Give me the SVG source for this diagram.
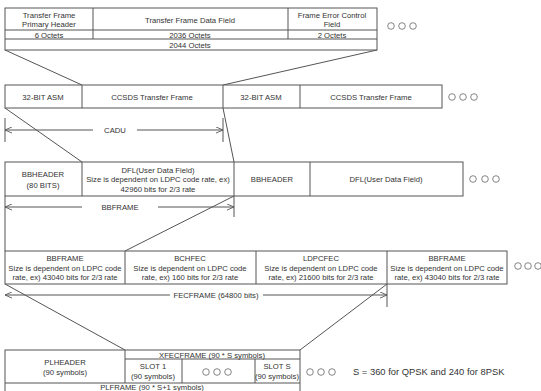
<svg xmlns="http://www.w3.org/2000/svg" width="541" height="391" viewBox="0 0 541 391">
<defs>
<style>
.b{fill:#fff;stroke:#555;stroke-width:1}
.l{stroke:#555;stroke-width:1;fill:none}
.c{fill:none;stroke:#666;stroke-width:0.8}
text{font-family:"Liberation Sans",Arial,sans-serif;font-size:7.7px;fill:#333;text-anchor:middle}
.s{font-size:9.4px;text-anchor:start}
</style>
<marker id="arr" viewBox="0 0 8 8" refX="8" refY="4" markerWidth="7" markerHeight="7" markerUnits="userSpaceOnUse" orient="auto-start-reverse">
<path d="M0,0.5 L8,4 L0,7.5" fill="none" stroke="#555" stroke-width="1"/>
</marker>
</defs>
<rect width="541" height="391" fill="#fff"/>

<g id="connectors">
<line class="l" x1="5" y1="50" x2="82" y2="85"/>
<line class="l" x1="377" y1="50" x2="223" y2="85"/>
<line class="l" x1="5" y1="108" x2="82" y2="162"/>
<line class="l" x1="223" y1="108" x2="234" y2="162"/>
<line class="l" x1="5" y1="118" x2="5" y2="142"/>
<line class="l" x1="223" y1="118" x2="223" y2="142"/>
<line class="l" x1="93" y1="130" x2="5" y2="130" marker-end="url(#arr)"/>
<line class="l" x1="137" y1="130" x2="223" y2="130" marker-end="url(#arr)"/>
<line class="l" x1="5" y1="196" x2="5" y2="251"/>
<line class="l" x1="234" y1="196" x2="234" y2="217"/>
<line class="l" x1="82" y1="207" x2="5" y2="207" marker-end="url(#arr)"/>
<line class="l" x1="158" y1="207" x2="234" y2="207" marker-end="url(#arr)"/>
<line class="l" x1="234" y1="196" x2="125" y2="251"/>
<line class="l" x1="387" y1="284" x2="387" y2="307"/>
<line class="l" x1="170" y1="295" x2="5" y2="295" marker-end="url(#arr)"/>
<line class="l" x1="263" y1="295" x2="387" y2="295" marker-end="url(#arr)"/>
<line class="l" x1="5" y1="284" x2="125" y2="350"/>
<line class="l" x1="387" y1="284" x2="300" y2="350"/>
<text x="115" y="133">CADU</text>
<text x="120" y="210">BBFRAME</text>
<text x="216" y="298">FECFRAME (64800 bits)</text>
</g>

<g id="transfer-frame">
<rect class="b" x="5" y="8" width="372" height="42"/>
<line class="l" x1="5" y1="30" x2="377" y2="30"/>
<line class="l" x1="5" y1="39" x2="377" y2="39"/>
<line class="l" x1="93" y1="8" x2="93" y2="39"/>
<line class="l" x1="288" y1="8" x2="288" y2="39"/>
<text x="49" y="18">Transfer Frame</text>
<text x="49" y="27">Primary Header</text>
<text x="190" y="22.5">Transfer Frame Data Field</text>
<text x="332" y="18">Frame Error Control</text>
<text x="332" y="27">Field</text>
<text x="49" y="37.5">6 Octets</text>
<text x="190" y="37.5">2036 Octets</text>
<text x="332" y="37.5">2 Octets</text>
<text x="190" y="47.5">2044 Octets</text>
<circle class="c" cx="391" cy="26" r="3.3"/>
<circle class="c" cx="402" cy="26" r="3.3"/>
<circle class="c" cx="413" cy="26" r="3.3"/>
</g>

<g id="cadu">
<rect class="b" x="5" y="85" width="437" height="23"/>
<line class="l" x1="82" y1="85" x2="82" y2="108"/>
<line class="l" x1="223" y1="85" x2="223" y2="108"/>
<line class="l" x1="300" y1="85" x2="300" y2="108"/>
<text x="43" y="99.5">32-BIT ASM</text>
<text x="152" y="99.5">CCSDS Transfer Frame</text>
<text x="261" y="99.5">32-BIT ASM</text>
<text x="371" y="99.5">CCSDS Transfer Frame</text>
<circle class="c" cx="452" cy="97" r="3.3"/>
<circle class="c" cx="463" cy="97" r="3.3"/>
<circle class="c" cx="474" cy="97" r="3.3"/>
</g>

<g id="bbframe">
<rect class="b" x="5" y="162" width="458" height="34"/>
<line class="l" x1="82" y1="162" x2="82" y2="196"/>
<line class="l" x1="234" y1="162" x2="234" y2="196"/>
<line class="l" x1="310" y1="162" x2="310" y2="196"/>
<text x="43" y="177">BBHEADER</text>
<text x="43" y="187.5">(80 BITS)</text>
<text x="158" y="172.5">DFL(User Data Field)</text>
<text x="158" y="182">Size is dependent on LDPC code rate, ex)</text>
<text x="158" y="191.5">42960 bits for 2/3 rate</text>
<text x="272" y="182">BBHEADER</text>
<text x="386" y="182">DFL(User Data Field)</text>
<circle class="c" cx="473" cy="179" r="3.3"/>
<circle class="c" cx="485" cy="179" r="3.3"/>
<circle class="c" cx="496" cy="179" r="3.3"/>
</g>

<g id="fecframe">
<rect class="b" x="5" y="251" width="502" height="33"/>
<line class="l" x1="125" y1="251" x2="125" y2="284"/>
<line class="l" x1="256" y1="251" x2="256" y2="284"/>
<line class="l" x1="387" y1="251" x2="387" y2="284"/>
<text x="65" y="260.5">BBFRAME</text>
<text x="65" y="270.5">Size is dependent on LDPC code</text>
<text x="65" y="280">rate, ex) 43040 bits for 2/3 rate</text>
<text x="190" y="260.5">BCHFEC</text>
<text x="190" y="270.5">Size is dependent on LDPC code</text>
<text x="190" y="280">rate, ex) 160 bits for 2/3 rate</text>
<text x="321" y="260.5">LDPCFEC</text>
<text x="321" y="270.5">Size is dependent on LDPC code</text>
<text x="321" y="280">rate, ex) 21600 bits for 2/3 rate</text>
<text x="447" y="260.5">BBFRAME</text>
<text x="447" y="270.5">Size is dependent on LDPC code</text>
<text x="447" y="280">rate, ex) 43040 bits for 2/3 rate</text>
<circle class="c" cx="518" cy="266" r="3.3"/>
<circle class="c" cx="528" cy="266" r="3.3"/>
<circle class="c" cx="538" cy="266" r="3.3"/>
</g>

<g id="plframe">
<rect class="b" x="5" y="350" width="295" height="45"/>
<line class="l" x1="5" y1="383" x2="300" y2="383"/>
<line class="l" x1="125" y1="359" x2="300" y2="359"/>
<line class="l" x1="125" y1="350" x2="125" y2="383"/>
<line class="l" x1="182" y1="359" x2="182" y2="383"/>
<line class="l" x1="255" y1="359" x2="255" y2="383"/>
<text x="212" y="357.5">XFECFRAME (90 * S symbols)</text>
<text x="65" y="365">PLHEADER</text>
<text x="65" y="375">(90 symbols)</text>
<text x="153" y="369">SLOT 1</text>
<text x="153" y="379">(90 symbols)</text>
<circle class="c" cx="206" cy="372" r="3.3"/>
<circle class="c" cx="217" cy="372" r="3.3"/>
<circle class="c" cx="228" cy="372" r="3.3"/>
<text x="277" y="369">SLOT S</text>
<text x="277" y="379">(90 symbols)</text>
<text x="152" y="390">PLFRAME (90 * S+1 symbols)</text>
<circle class="c" cx="310" cy="372" r="3.3"/>
<circle class="c" cx="321" cy="372" r="3.3"/>
<circle class="c" cx="332" cy="372" r="3.3"/>
<text class="s" x="353" y="375">S = 360 for QPSK and 240 for 8PSK</text>
</g>
</svg>
